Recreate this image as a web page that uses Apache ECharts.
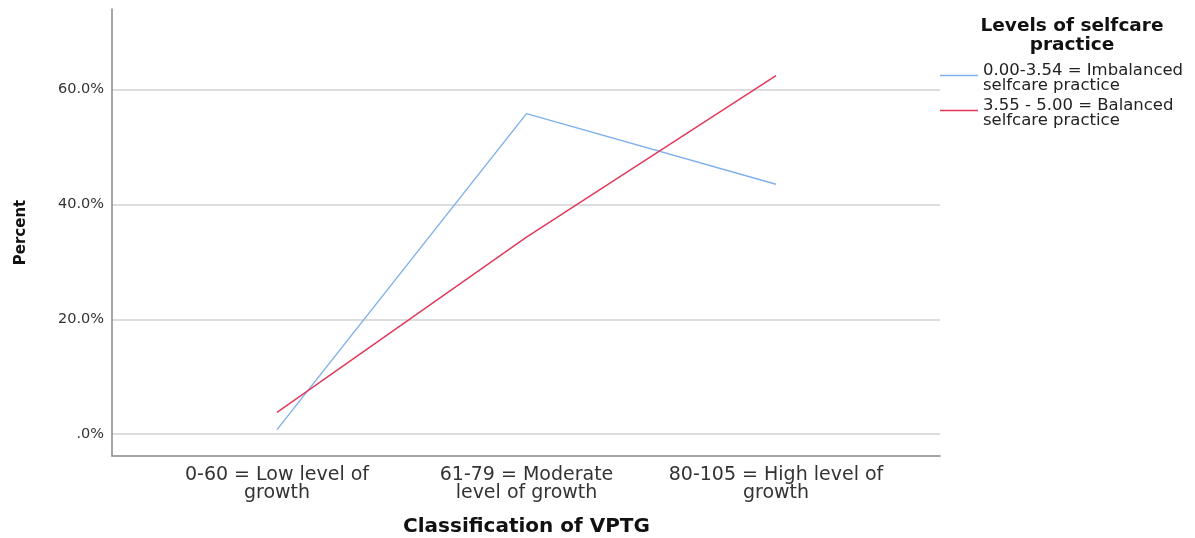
<!DOCTYPE html>
<html>
<head>
<meta charset="utf-8">
<script src="https://cdn.jsdelivr.net/npm/echarts@6/dist/echarts.min.js"></script>
<style>
  html, body { margin: 0; padding: 0; background: #fff; }
  #chart { width: 1195px; height: 538px; }
</style>
</head>
<body>
<div id="chart"></div>
<script>
// 数据
const categories = ['0-60 = Low level of\ngrowth', '61-79 = Moderate\nlevel of growth', '80-105 = High level of\ngrowth'];
const seriesNames = ['0.00-3.54 = Imbalanced\nselfcare practice', '3.55 - 5.00 = Balanced\nselfcare practice'];
const imbalanced = [0.8, 55.8, 43.5];
const balanced = [3.8, 34.3, 62.4];
const yTicks = [0, 20, 40, 60];

const FONT = 'DejaVu Sans';
const Y_MIN = -3.8, Y_MAX = 74;
// 图例线条：上方实线 + 下方不可见点，使线条略高于文字中心
const LEGEND_ICON = 'path://M0,0H38V1.4H0Z M0,6.5H0.01V6.51H0Z';

const chart = echarts.init(document.getElementById('chart'));
chart.setOption({
  animation: false,
  backgroundColor: '#fff',
  title: {
    text: 'Levels of selfcare\npractice',
    left: 1067, top: 12, textAlign: 'center',
    textStyle: { fontFamily: FONT, fontSize: 18.5, fontWeight: 'bold', color: '#111', lineHeight: 19 }
  },
  legend: {
    orient: 'vertical', left: 935, top: 57,
    itemWidth: 38, itemHeight: 6.5, itemGap: 3,
    icon: LEGEND_ICON,
    data: seriesNames,
    textStyle: { fontFamily: FONT, fontSize: 16.5, color: '#222', lineHeight: 15 }
  },
  grid: [
    { left: 112, right: 255, top: 9, bottom: 82, outerBoundsMode: 'none' },       // 坐标轴/网格线
    { left: 152.25, right: 294.25, top: 9, bottom: 82, outerBoundsMode: 'none' }  // 折线
  ],
  xAxis: [
    {
      gridIndex: 0, type: 'value', min: 0, max: 1,
      axisLine: { show: true, onZero: false, lineStyle: { color: '#888', width: 1.5 } },
      axisTick: { show: false }, axisLabel: { show: false }, splitLine: { show: false }
    },
    {
      gridIndex: 1, type: 'category', data: categories, boundaryGap: true,
      axisLine: { show: false }, axisTick: { show: false },
      axisLabel: { fontFamily: FONT, fontSize: 19, color: '#333', lineHeight: 18, margin: 10, interval: 0 },
      name: 'Classification of VPTG', nameLocation: 'middle', nameGap: 61,
      nameTextStyle: { fontFamily: FONT, fontSize: 20, fontWeight: 'bold', color: '#111' }
    }
  ],
  yAxis: [
    {
      gridIndex: 0, type: 'value', min: Y_MIN, max: Y_MAX,
      axisLine: { show: true, lineStyle: { color: '#888', width: 1.5 } },
      axisTick: { show: false, customValues: yTicks },
      axisLabel: {
        customValues: yTicks, margin: 8,
        fontFamily: FONT, fontSize: 14.5, color: '#333',
        formatter: v => v === 0 ? '.0%' : v.toFixed(1) + '%'
      },
      splitLine: { show: true, lineStyle: { color: '#d2d2d2', width: 1.5 } },
      name: 'Percent', nameLocation: 'middle', nameRotate: 90, nameGap: 83,
      nameTextStyle: { fontFamily: FONT, fontSize: 15, fontWeight: 'bold', color: '#111' }
    },
    {
      gridIndex: 1, type: 'value', min: Y_MIN, max: Y_MAX, show: false, splitLine: { show: false }
    }
  ],
  series: [
    {
      name: seriesNames[0], type: 'line', xAxisIndex: 1, yAxisIndex: 1,
      data: imbalanced, symbol: 'none', color: '#7fb0ec',
      lineStyle: { width: 1.4, color: '#7fb0ec' }
    },
    {
      name: seriesNames[1], type: 'line', xAxisIndex: 1, yAxisIndex: 1,
      data: balanced, symbol: 'none', color: '#e2365a',
      lineStyle: { width: 1.4, color: '#e2365a' }
    }
  ]
});
</script>
</body>
</html>
